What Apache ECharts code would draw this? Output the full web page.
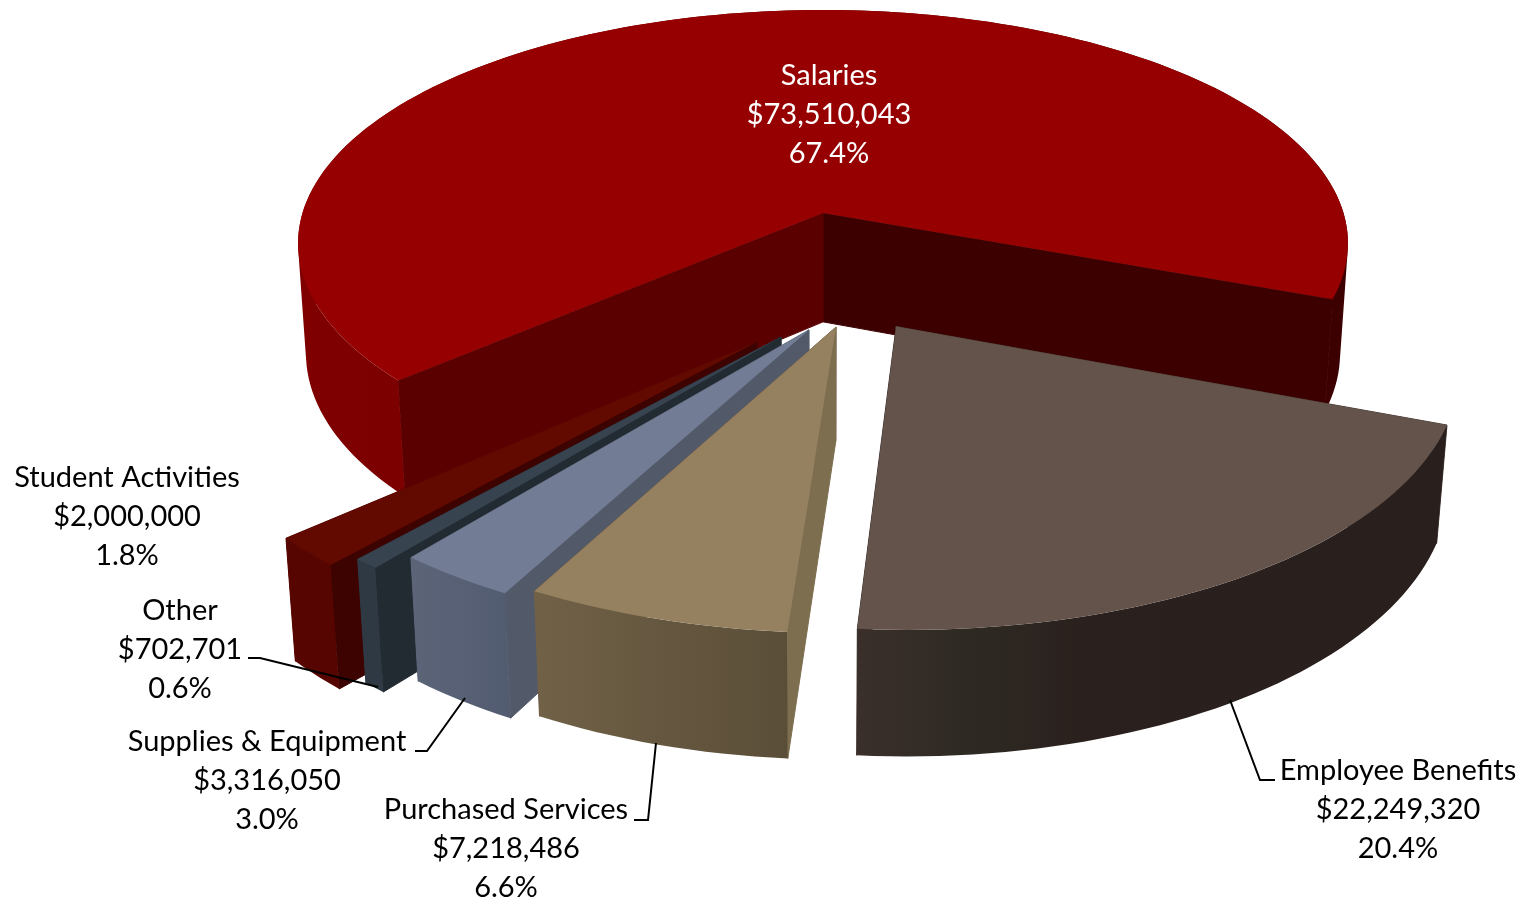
<!DOCTYPE html>
<html>
<head>
<meta charset="utf-8">
<title>Expenditures by category</title>
<script src="https://cdn.jsdelivr.net/npm/echarts@6/dist/echarts.min.js"></script>
<style>
  html, body { margin: 0; padding: 0; background: #fff; }
  #chart { width: 1527px; height: 900px; }
</style>
</head>
<body>
<div id="chart"></div>
<script>
// Slices listed back to front, running counter-clockwise from the end of Salaries.
const categories = ['Salaries', 'Student Activities', 'Other', 'Supplies & Equipment', 'Purchased Services', 'Employee Benefits'];
const amounts = [73510043, 2000000, 702701, 3316050, 7218486, 22249320];

// Perspective camera for the tilted disc (unit radius, z = 1 is the disc's underside).
const camera = { cx: 823, cy: 213, rx: 520.5, ry: 229.4, lift: 110.5, tilt: 0.13, recede: 0.015 };
const firstAngle = 111; // clockwise from the back of the disc, degrees

// Per-slice placement: how far it is pulled out and its rim radius.
const pulled = [[0, 0], [-0.1182, 0.524], [-0.0754, 0.505], [-0.0255, 0.478], [0.0235, 0.4668], [0.132, 0.465]];
const rimRadius = [1, 1.01, 1.012, 1.006, 1.012, 1.005];

// Face colours per slice.
const topColors = ['#960000', '#620a00', '#37434f', '#727c94', '#95805f', '#63534a'];
const lowAngleWallColors = ['#5a0000', '#3d0300', '#222a32', '#525a6a', '#7e6e50', '#4a3e38'];
const highAngleWallColors = ['#3d0000', '#560500', '#2e3944', '#5c6478', '#6f6047', '#3a2f2b'];
const rimStops = [
  [[0, '#800000'], [0.1, '#7c0000'], [0.9, '#3d0000'], [1, '#3d0000']],
  [[0, '#560500'], [1, '#560500']],
  [[0, '#2e3944'], [1, '#2e3944']],
  [[0, '#5c6478'], [1, '#525c70']],
  [[0, '#706147'], [1, '#5b4e38']],
  [[0, '#3a2f2b'], [0.2, '#2e2923'], [0.4, '#2a201d'], [1, '#291f1d']]
];

// Label centres and their leader lines.
const labelCentres = [[829, 115], [127, 517], [180, 650], [267, 781], [506, 849], [1398, 810]];
const leaders = [
  null, null,
  [[248, 658], [260, 658], [378, 687]],
  [[415, 751], [427, 751], [465, 698]],
  [[634, 820], [648, 820], [656, 743]],
  [[1275, 780], [1260, 780], [1230, 700]]
];
const labelColors = ['#ffffff', '#000000', '#000000', '#000000', '#000000', '#000000'];

const total = amounts.reduce((a, b) => a + b, 0);

function project(x, y, z) {
  const w = 1 - camera.tilt * y + camera.recede * z;
  return [camera.cx + camera.rx * x / w, camera.cy + (camera.ry * y + camera.lift * z) / w];
}

// Angular span [from, to] of slice i, walking counter-clockwise from firstAngle.
function sliceSpan(i) {
  let run = 0;
  for (let k = 0; k < i; k++) run += amounts[k];
  const a = echarts.number.linearMap(run, [0, total], [firstAngle, firstAngle - 360]);
  const b = echarts.number.linearMap(run + amounts[i], [0, total], [firstAngle, firstAngle - 360]);
  return [b, a];
}

function rimPoints(i, z) {
  const span = sliceSpan(i), pts = [];
  const steps = Math.max(4, Math.ceil((span[1] - span[0]) / 1.5));
  for (let s = 0; s <= steps; s++) {
    const t = (span[0] + (span[1] - span[0]) * s / steps) * Math.PI / 180;
    pts.push(project(pulled[i][0] + rimRadius[i] * Math.sin(t), pulled[i][1] - rimRadius[i] * Math.cos(t), z));
  }
  return pts;
}

function polygon(points, fill, edge) {
  return { type: 'polygon', shape: { points: points }, style: { fill: fill, stroke: edge || null, lineWidth: edge ? 1 : 0 }, silent: true };
}

function signedArea(q) {
  let a = 0;
  q.forEach((p, n) => {
    const r = q[(n + 1) % q.length];
    a += p[0] * r[1] - r[0] * p[1];
  });
  return a;
}

// The curved wall is one path of narrow quads wound the same way, so overlaps at the
// disc's side edges stay filled and neighbouring quads leave no seams.
function curvedWall(top, under, fill) {
  let d = '';
  const pt = p => p[0].toFixed(2) + ' ' + p[1].toFixed(2);
  for (let s = 0; s < top.length - 1; s++) {
    const q = [top[s], top[s + 1], under[s + 1], under[s]];
    if (signedArea(q) < 0) q.reverse();
    d += 'M' + pt(q[0]) + 'L' + pt(q[1]) + 'L' + pt(q[2]) + 'L' + pt(q[3]) + 'Z';
  }
  return { type: 'path', shape: { pathData: d }, style: { fill: fill, stroke: null }, silent: true };
}

function renderSlice(params) {
  const i = params.dataIndex;
  const top = rimPoints(i, 0), under = rimPoints(i, 1);
  const apexTop = project(pulled[i][0], pulled[i][1], 0);
  const apexUnder = project(pulled[i][0], pulled[i][1], 1);
  const xs = under.concat(top).map(p => p[0]);
  const rimFill = new echarts.graphic.LinearGradient(
    Math.min.apply(null, xs), 0, Math.max.apply(null, xs), 0,
    rimStops[i].map(s => ({ offset: s[0], color: s[1] })), true);
  const last = top.length - 1;
  return {
    type: 'group',
    children: [
      polygon([apexTop, top[last], under[last], apexUnder], highAngleWallColors[i], highAngleWallColors[i]),
      polygon([apexTop, top[0], under[0], apexUnder], lowAngleWallColors[i], lowAngleWallColors[i]),
      curvedWall(top, under, rimFill),
      polygon([apexTop].concat(top), topColors[i])
    ]
  };
}

function money(v) {
  return '$' + v.toLocaleString('en-US');
}

function renderLabel(params, api) {
  const i = params.dataIndex;
  const value = api.value(0);
  const children = [{
    type: 'text',
    silent: true,
    style: {
      x: labelCentres[i][0], y: labelCentres[i][1],
      text: categories[i] + '\n' + money(value) + '\n' + (value / total * 100).toFixed(1) + '%',
      fill: labelColors[i],
      font: '29px Lato',
      lineHeight: 39,
      align: 'center',
      verticalAlign: 'middle'
    }
  }];
  if (leaders[i]) {
    children.push({
      type: 'polyline',
      silent: true,
      shape: { points: leaders[i] },
      style: { stroke: '#000000', lineWidth: 2, fill: null }
    });
  }
  return { type: 'group', children: children };
}

const chart = echarts.init(document.getElementById('chart'), null, { renderer: 'canvas' });
const rows = categories.map((name, i) => ({ name: name, value: [amounts[i]] }));
chart.setOption({
  animation: false,
  backgroundColor: '#ffffff',
  series: [
    { type: 'custom', coordinateSystem: 'none', renderItem: renderSlice, data: rows, z: 1 },
    { type: 'custom', coordinateSystem: 'none', renderItem: renderLabel, data: rows, z: 2 }
  ]
});
</script>
</body>
</html>
